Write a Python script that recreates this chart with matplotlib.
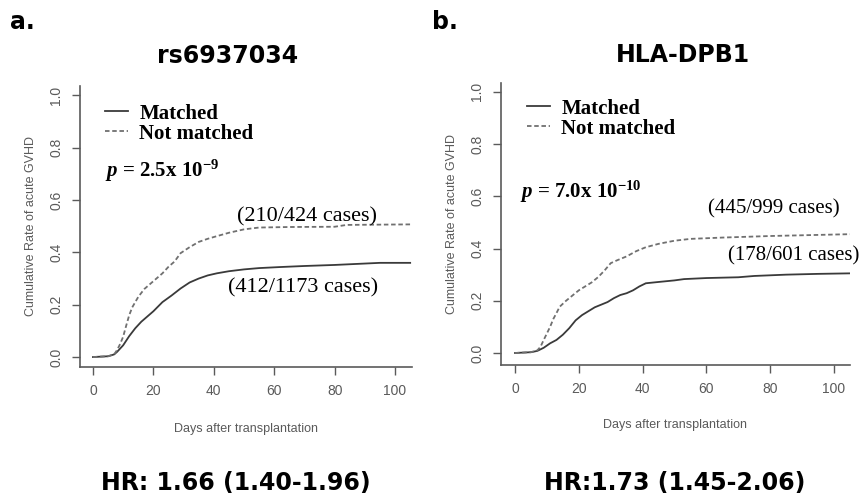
"""
Cumulative incidence of acute GVHD, matched vs not matched donors
"""
import matplotlib
matplotlib.use('Agg')
import matplotlib.pyplot as plt

# panel a: rs6937034
days_a_matched = [0, 5, 7, 8, 10, 12, 14, 16, 18, 20, 23, 26, 29, 32, 35, 38, 41,
                  45, 50, 55, 62, 70, 80, 95, 105]
rate_a_matched = [0, 0.003, 0.01, 0.02, 0.045, 0.08, 0.11, 0.135, 0.155, 0.175, 0.21,
                  0.235, 0.262, 0.285, 0.30, 0.312, 0.32, 0.328, 0.335, 0.34, 0.344,
                  0.348, 0.352, 0.36, 0.36]
days_a_notmatched = [0, 5, 7, 8, 9, 10, 11, 12, 13, 14, 15, 17, 19, 21, 23, 25, 27, 29,
                     32, 35, 38, 41, 45, 50, 55, 65, 80, 84, 105]
rate_a_notmatched = [0, 0.003, 0.01, 0.027, 0.05, 0.078, 0.12, 0.16, 0.19, 0.21, 0.23,
                     0.26, 0.28, 0.30, 0.32, 0.345, 0.365, 0.397, 0.42, 0.44, 0.452,
                     0.462, 0.475, 0.488, 0.495, 0.497, 0.498, 0.505, 0.507]

# panel b: HLA-DPB1
days_b_matched = [0, 5, 7, 9, 11, 13, 15, 17, 19, 21, 23, 25, 27, 29, 31, 33, 35, 37,
                  39, 41, 45, 50, 53, 60, 70, 75, 85, 95, 105]
rate_b_matched = [0, 0.003, 0.008, 0.02, 0.037, 0.05, 0.07, 0.095, 0.125, 0.145, 0.16,
                  0.175, 0.185, 0.195, 0.21, 0.222, 0.229, 0.24, 0.255, 0.267, 0.272,
                  0.278, 0.283, 0.287, 0.29, 0.295, 0.30, 0.303, 0.305]
days_b_notmatched = [0, 5, 7, 8, 9, 10, 11, 12, 13, 14, 16, 18, 20, 22, 24, 26, 28, 30,
                     32, 35, 38, 41, 45, 50, 55, 65, 80, 105]
rate_b_notmatched = [0, 0.003, 0.01, 0.024, 0.05, 0.075, 0.10, 0.13, 0.153, 0.177, 0.20,
                     0.22, 0.24, 0.255, 0.27, 0.29, 0.315, 0.344, 0.355, 0.37, 0.39,
                     0.405, 0.418, 0.43, 0.437, 0.442, 0.448, 0.455]

legend_labels = ['Matched', 'Not matched']
x_ticks = [0, 20, 40, 60, 80, 100]
y_ticks = [0.0, 0.2, 0.4, 0.6, 0.8, 1.0]

plt.rcParams['mathtext.fontset'] = 'custom'
plt.rcParams['mathtext.rm'] = 'Liberation Serif:bold'
plt.rcParams['mathtext.it'] = 'Liberation Serif:italic:bold'

AXIS_GRAY = '#5a5a5a'
SERIF = 'Liberation Serif'
SANS = 'Liberation Sans'
TITLE_FONT = 'DejaVu Sans'


def draw_panel(ax, d_m, r_m, d_n, r_n, xlim, ylim, leg_anchor, xlabelpad):
    ax.plot(d_m, r_m, color='#3a3a3a', linewidth=1.3)
    ax.plot(d_n, r_n, color='#707070', linewidth=1.3, linestyle=(0, (2.5, 1.5)))
    ax.set_xlim(*xlim)
    ax.set_ylim(*ylim)
    ax.set_xticks(x_ticks)
    ax.set_yticks(y_ticks)
    ax.set_yticklabels([f'{v:.1f}' for v in y_ticks], rotation=90, va='center')
    ax.tick_params(colors=AXIS_GRAY, length=6, width=1, labelsize=10, pad=6)
    for lab in ax.get_xticklabels() + ax.get_yticklabels():
        lab.set_family(SANS)
    ax.spines['top'].set_visible(False)
    ax.spines['right'].set_visible(False)
    for s in ('left', 'bottom'):
        ax.spines[s].set_color(AXIS_GRAY)
        ax.spines[s].set_linewidth(1.2)
    ax.set_ylabel('Cumulative Rate of acute GVHD', family=SANS, fontsize=9,
                  color=AXIS_GRAY, labelpad=9)
    ax.set_xlabel('Days after transplantation', family=SANS, fontsize=9,
                  color=AXIS_GRAY, labelpad=xlabelpad)
    ax.legend(legend_labels, loc='upper left', bbox_to_anchor=leg_anchor,
              frameon=False, borderpad=0, borderaxespad=0, handlelength=1.1,
              handletextpad=0.55, labelspacing=0.0,
              prop={'family': SERIF, 'weight': 'bold', 'size': 15})


fig = plt.figure(figsize=(8.59, 4.97), dpi=100)
ax1 = fig.add_axes([0.0931, 0.2616, 0.3865, 0.5654])
ax2 = fig.add_axes([0.5832, 0.2656, 0.4063, 0.5674])

draw_panel(ax1, days_a_matched, rate_a_matched, days_a_notmatched, rate_a_notmatched,
           (-4.3, 105.6), (-0.038, 1.036), (0.075, 0.937), 18)
draw_panel(ax2, days_b_matched, rate_b_matched, days_b_notmatched, rate_b_notmatched,
           (-4.4, 105.0), (-0.046, 1.034), (0.0745, 0.944), 17)

# p-values and case counts
ax1.text(4, 0.69, r'$p$ = 2.5x 10$^{-9}$', family=SERIF, weight='bold', fontsize=15)
ax2.text(1.6, 0.595, r'$p$ = 7.0x 10$^{-10}$', family=SERIF, weight='bold', fontsize=15)
ax1.text(47.7, 0.517, '(210/424 cases)', family=SERIF, fontsize=16)
ax1.text(44.7, 0.246, '(412/1173 cases)', family=SERIF, fontsize=16)
ax2.text(60.5, 0.535, '(445/999 cases)', family=SERIF, fontsize=15)
ax2.text(66.8, 0.356, '(178/601 cases)', family=SERIF, fontsize=15)

# panel letters, titles and hazard ratios
fig.text(10 / 859, 1 - 29 / 497, 'a.', family=TITLE_FONT, weight='bold', fontsize=17)
fig.text(432 / 859, 1 - 29 / 497, 'b.', family=TITLE_FONT, weight='bold', fontsize=17)
fig.text(227.5 / 859, 1 - 63 / 497, 'rs6937034', family=TITLE_FONT, weight='bold',
         fontsize=17, ha='center')
fig.text(682.5 / 859, 1 - 62 / 497, 'HLA-DPB1', family=TITLE_FONT, weight='bold',
         fontsize=17, ha='center')
fig.text(236 / 859, 1 - 490 / 497, 'HR: 1.66 (1.40-1.96)', family=TITLE_FONT,
         weight='bold', fontsize=17, ha='center')
fig.text(675 / 859, 1 - 490 / 497, 'HR:1.73 (1.45-2.06)', family=TITLE_FONT,
         weight='bold', fontsize=17, ha='center')

fig.savefig('out.png', dpi=100)
